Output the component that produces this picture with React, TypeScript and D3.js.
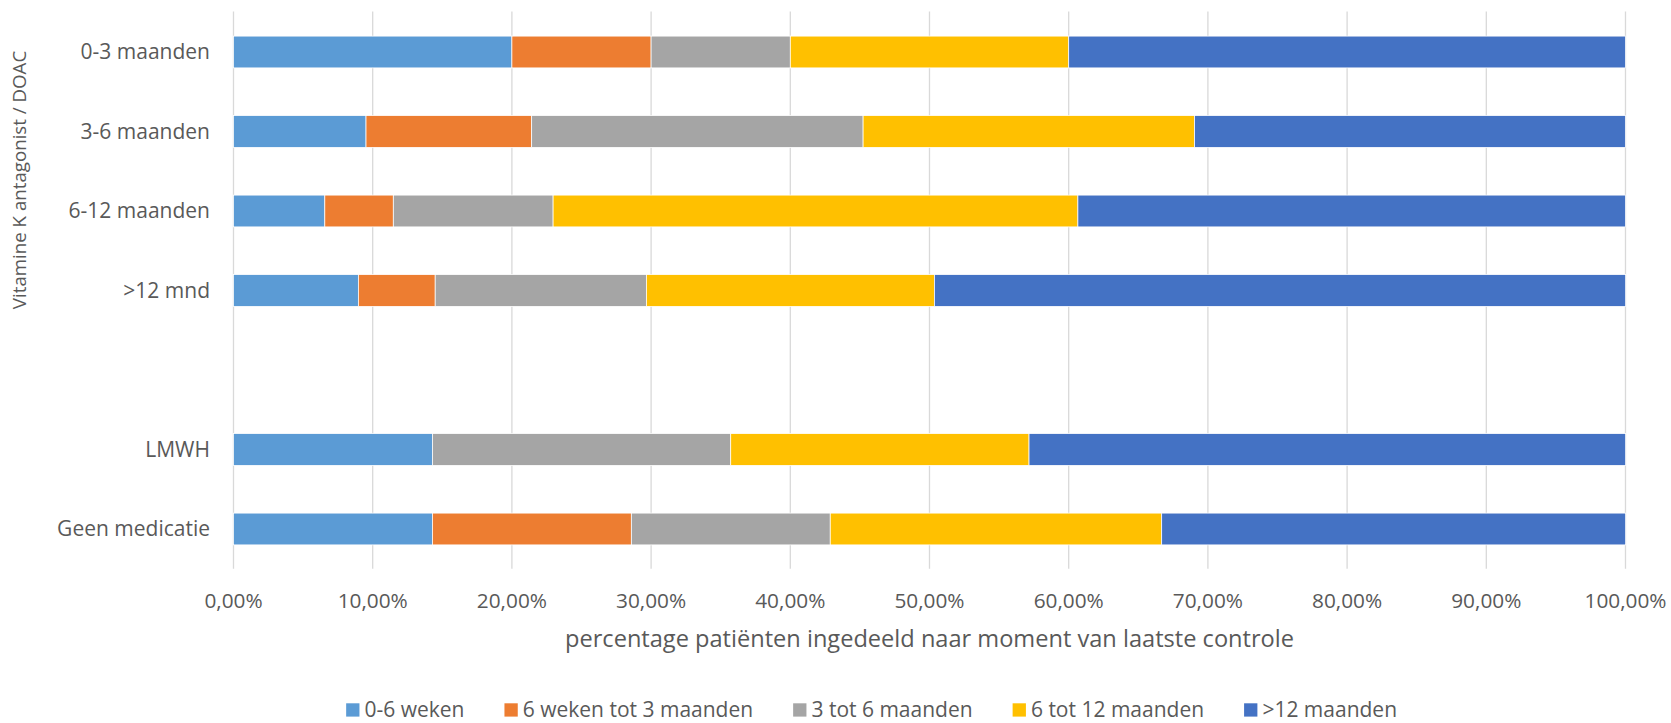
import React, { useEffect, useRef } from "react";
import * as d3 from "d3";

const categories = ["0-3 maanden", "3-6 maanden", "6-12 maanden", ">12 mnd", "", "LMWH", "Geen medicatie"];
const seriesNames = ["0-6 weken", "6 weken tot 3 maanden", "3 tot 6 maanden", "6 tot 12 maanden", ">12 maanden"];
const s0_6weken = [20, 9.52, 6.56, 8.97, 0, 14.29, 14.29];
const s6w_3m = [10, 11.9, 4.92, 5.52, 0, 0, 14.29];
const s3_6m = [10, 23.81, 11.48, 15.17, 0, 21.43, 14.29];
const s6_12m = [20, 23.81, 37.7, 20.69, 0, 21.43, 23.81];
const s12plus = [40, 30.95, 39.34, 49.66, 0, 42.86, 33.33];
const xTicks = [0, 10, 20, 30, 40, 50, 60, 70, 80, 90, 100];
const colors = ["#5B9BD5", "#ED7D31", "#A5A5A5", "#FFC000", "#4472C4"];
const xTitle = "percentage patiënten ingedeeld naar moment van laatste controle";
const yTitle = "Vitamine K antagonist / DOAC";

const W = 1671;
const H = 723;
const FONT = "'Open Sans', sans-serif";
const TEXT = "#595959";

export default function App() {
  const ref = useRef<SVGSVGElement | null>(null);

  useEffect(() => {
    const svg = d3.select(ref.current);
    svg.selectAll("*").remove();

    const left = 233.5, right = 1625.5, top = 12.25, bottom = 568.75;
    const x = d3.scaleLinear().domain([0, 100]).range([left, right]);
    const y = d3.scaleBand<number>()
      .domain(categories.map((_, i) => i))
      .range([top, bottom])
      .paddingInner(0.6)
      .paddingOuter(0.3);

    const all = [s0_6weken, s6w_3m, s3_6m, s6_12m, s12plus];
    const rows = categories.map((c, i) => {
      const r: any = { i };
      seriesNames.forEach((s, k) => (r[s] = all[k][i]));
      return r;
    });
    const stack = d3.stack<any>().keys(seriesNames)(rows);

    // gridlines
    svg.append("g")
      .selectAll("line")
      .data(xTicks)
      .join("line")
      .attr("x1", (d) => x(d))
      .attr("x2", (d) => x(d))
      .attr("y1", top - 0.75)
      .attr("y2", bottom)
      .attr("stroke", "#D9D9D9")
      .attr("stroke-width", 1.3);

    // bars
    stack.forEach((layer, k) => {
      svg.append("g")
        .selectAll("rect")
        .data(layer.filter((d) => d[1] - d[0] > 0))
        .join("rect")
        .attr("x", (d) => x(d[0]))
        .attr("width", (d) => x(d[1]) - x(d[0]))
        .attr("y", (d) => y(d.data.i)!)
        .attr("height", y.bandwidth())
        .attr("fill", colors[k])
        .attr("stroke", "#ffffff")
        .attr("stroke-width", 0.75);
    });

    // x tick labels
    svg.append("g")
      .selectAll("text")
      .data(xTicks)
      .join("text")
      .attr("x", (d) => x(d))
      .attr("y", 608.3)
      .attr("text-anchor", "middle")
      .attr("font-family", FONT)
      .attr("font-size", 20.8)
      .attr("fill", TEXT)
      .text((d) => d3.format(".2f")(d).replace(".", ",") + "%");

    // y labels
    svg.append("g")
      .selectAll("text")
      .data(categories.map((c, i) => ({ c, i })).filter((d) => d.c !== ""))
      .join("text")
      .attr("x", 210)
      .attr("y", (d) => y(d.i)! + y.bandwidth() / 2)
      .attr("dy", "0.35em")
      .attr("text-anchor", "end")
      .attr("font-family", FONT)
      .attr("font-size", 21)
      .attr("fill", TEXT)
      .text((d) => d.c);

    // x title
    svg.append("text")
      .attr("x", (left + right) / 2)
      .attr("y", 647)
      .attr("text-anchor", "middle")
      .attr("font-family", FONT)
      .attr("font-size", 23.6)
      .attr("fill", TEXT)
      .text(xTitle);

    // y title
    svg.append("text")
      .attr("transform", `translate(26,180) rotate(-90)`)
      .attr("text-anchor", "middle")
      .attr("font-family", FONT)
      .attr("font-size", 18.7)
      .attr("fill", TEXT)
      .text(yTitle);

    // legend
    const lg = svg.append("g");
    const sq = 13.3, gapT = 5, gapI = 40;
    let cx = 0;
    const items: { g: any; w: number }[] = [];
    seriesNames.forEach((s, k) => {
      const g = lg.append("g");
      g.append("rect")
        .attr("x", 0)
        .attr("y", 703.3)
        .attr("width", sq)
        .attr("height", sq)
        .attr("fill", colors[k]);
      const t = g.append("text")
        .attr("x", sq + gapT)
        .attr("y", 716.7)
        .attr("font-family", FONT)
        .attr("font-size", 21)
        .attr("fill", TEXT)
        .text(s);
      const tw = (t.node() as SVGTextElement).getComputedTextLength();
      items.push({ g, w: sq + gapT + tw });
    });
    const total = items.reduce((a, b) => a + b.w, 0) + gapI * (items.length - 1);
    cx = 871.6 - total / 2;
    items.forEach((it) => {
      it.g.attr("transform", `translate(${cx},0)`);
      cx += it.w + gapI;
    });
  }, []);

  return (
    <svg
      ref={ref}
      width={W}
      height={H}
      style={{ position: "absolute", left: 0, top: 0, background: "#fff" }}
    />
  );
}
